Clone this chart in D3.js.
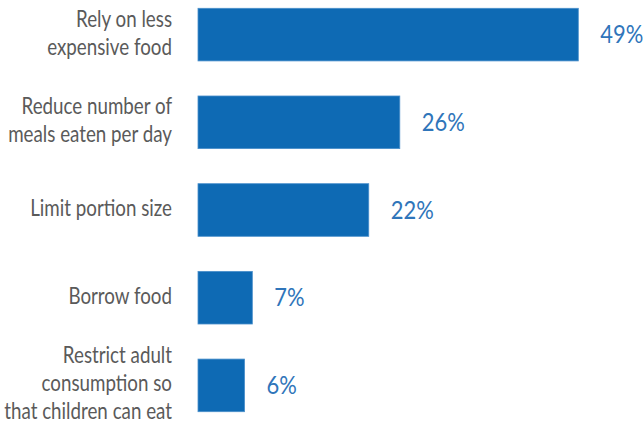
<!DOCTYPE html>
<html>
<head>
<style>
  body { margin: 0; background: #fff; }
  svg { display: block; }
  .cat { font-family: Lato, "DejaVu Sans Condensed", sans-serif; font-size: 22.5px; fill: #5a5a5a; }
  .val { font-family: Lato, "DejaVu Sans Condensed", sans-serif; font-size: 24.5px; fill: #2f75ba; }
</style>
<script src="https://d3js.org/d3.v7.min.js"></script>
</head>
<body>
<div id="chart"></div>
<script>
const categories = [
  ["Rely on less", "expensive food"],
  ["Reduce number of", "meals eaten per day"],
  ["Limit portion size"],
  ["Borrow food"],
  ["Restrict adult", "consumption so", "that children can eat"]
]
const values = [49, 26, 22, 7, 6]
const valueLabels = ["49%", "26%", "22%", "7%", "6%"]

var w = 644, h = 421
var margin = {top: 8.3, left: 198, bottom: 9.3}

var svg = d3.select("#chart").append("svg")
  .attr("width", w).attr("height", h)

var x = d3.scaleLinear().domain([0, 49]).range([margin.left, 578.3])
var y = d3.scaleBand()
  .domain(d3.range(values.length))
  .range([margin.top, h - margin.bottom])
  .paddingInner(0.4)
  .paddingOuter(0)

svg.selectAll("rect.bar")
  .data(values)
  .enter().append("rect")
  .attr("class", "bar")
  .attr("x", x(0))
  .attr("y", (d, i) => y(i))
  .attr("width", d => x(d) - x(0))
  .attr("height", y.bandwidth())
  .style("fill", "#0e6ab4")
  .style("stroke", "#4a8fcb")
  .style("stroke-width", 0.8)

// the reference uses a condensed face, so squeeze the text horizontally
var vals = svg.selectAll("g.val")
  .data(values)
  .enter().append("g")
  .attr("class", "val")
vals.append("text")
  .text((d, i) => valueLabels[i])
var vw = vals.filter((d, i) => i == 0).select("text").node().getComputedTextLength()
var vf = 43 / vw
vals.attr("transform", (d, i) => "translate(" + (x(d) + 22) + "," + (y(i) + y.bandwidth() / 2 + 8.5) + ") scale(" + vf + ",1)")

var lineH = 28
var cats = svg.selectAll("g.cat")
  .data(categories)
  .enter().append("g")
  .attr("class", "cat")
var catText = cats.append("text")
  .attr("text-anchor", "end")
  .attr("y", d => 6 - (d.length - 1) * lineH / 2)
catText.selectAll("tspan")
  .data(d => d)
  .enter().append("tspan")
  .attr("x", 0)
  .attr("dy", (d, i) => i == 0 ? 0 : lineH)
  .text(d => d)
var cw = catText.filter((d, i) => i == 1).selectAll("tspan").filter((d, i) => i == 1).node().getComputedTextLength()
var cf = 164 / cw
cats.attr("transform", (d, i) => "translate(172," + (y(i) + y.bandwidth() / 2) + ") scale(" + cf + ",1)")
</script>
</body>
</html>
